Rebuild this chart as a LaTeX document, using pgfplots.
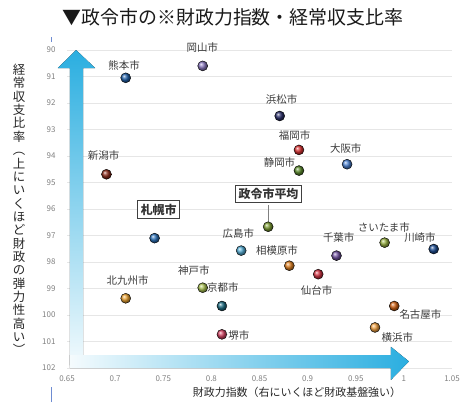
\documentclass[border=0pt]{standalone}
\usepackage{fontspec}
\setmainfont{Noto Sans CJK JP}
\usepackage{pgfplots}
\pgfplotsset{compat=1.18}
\definecolor{gridc}{HTML}{E6E6E6}
\definecolor{tickc}{HTML}{808080}
\definecolor{labc}{HTML}{3A3A3A}
\definecolor{arrowc}{HTML}{2AAEE0}
\definecolor{cKumamoto}{HTML}{1F5FA8}
\definecolor{cOkayama}{HTML}{8A78C0}
\definecolor{cNiigata}{HTML}{8B2A1A}
\definecolor{cHamamatsu}{HTML}{2B2F6B}
\definecolor{cFukuoka}{HTML}{D83030}
\definecolor{cOsaka}{HTML}{4A80D0}
\definecolor{cShizuoka}{HTML}{5A8A2A}
\definecolor{cAvg}{HTML}{7A9A30}
\definecolor{cSapporo}{HTML}{2A70B8}
\definecolor{cHiroshima}{HTML}{50A8D0}
\definecolor{cSagamihara}{HTML}{E08020}
\definecolor{cChiba}{HTML}{7050A0}
\definecolor{cSaitama}{HTML}{98B040}
\definecolor{cKawasaki}{HTML}{1A4A90}
\definecolor{cSendai}{HTML}{D03040}
\definecolor{cKitakyushu}{HTML}{E8A030}
\definecolor{cKobe}{HTML}{A8C050}
\definecolor{cKyoto}{HTML}{1A6A80}
\definecolor{cSakai}{HTML}{D04060}
\definecolor{cNagoya}{HTML}{D06010}
\definecolor{cYokohama}{HTML}{F0A040}
\begin{document}
\begin{tikzpicture}
\useasboundingbox (-67bp,-42bp) rectangle (394bp,368bp);
\begin{axis}[
  at={(0,0)}, anchor=south west,
  scale only axis, width=385bp, height=318bp,
  xmin=0.65, xmax=1.05, ymin=90, ymax=102, y dir=reverse,
  xtick={0.65,0.7,0.75,0.8,0.85,0.9,0.95,1,1.05},
  xticklabels={0.65,0.7,0.75,0.8,0.85,0.9,0.95,1,1.05},
  ytick={90,91,92,93,94,95,96,97,98,99,100,101,102},
  ymajorgrids, grid style={gridc, line width=0.7bp},
  axis line style={draw=none}, major tick length=0pt,
  /pgf/number format/assume math mode=true,
  tick label style={font=\fontsize{8}{9}\selectfont, text=tickc},
  yticklabel style={xshift=-8bp},
  xticklabel style={yshift=-4bp},
  clip=false,
  every node near coord/.style={font=\fontsize{10.5}{12}\selectfont, text=labc},
]
% arrows
\fill[top color=arrowc, bottom color=arrowc!6]
  (axis cs:0.6531,101.9) -- (axis cs:0.6531,90.68) -- (axis cs:0.6406,90.68) --
  (axis cs:0.6594,90.0) -- (axis cs:0.6792,90.68) -- (axis cs:0.6667,90.68) --
  (axis cs:0.6667,101.9) -- cycle;
\fill[left color=arrowc!5, right color=arrowc]
  (axis cs:0.6531,101.51) -- (axis cs:0.9865,101.51) -- (axis cs:0.9865,101.2) --
  (axis cs:1.0052,101.75) -- (axis cs:0.9865,102.45) -- (axis cs:0.9865,102.0) --
  (axis cs:0.6531,102.0) -- cycle;
% connector for average
\draw[gray, line width=0.8bp] (axis cs:0.8594,95.85) -- (axis cs:0.8594,96.6);
% points
\addplot[only marks, mark=ball, mark size=5bp, ball color=cKumamoto] coordinates {(0.711,91.05)};
\addplot[only marks, mark=ball, mark size=5bp, ball color=cOkayama] coordinates {(0.791,90.6)};
\addplot[only marks, mark=ball, mark size=5bp, ball color=cNiigata] coordinates {(0.691,94.69)};
\addplot[only marks, mark=ball, mark size=5bp, ball color=cHamamatsu] coordinates {(0.871,92.49)};
\addplot[only marks, mark=ball, mark size=5bp, ball color=cFukuoka] coordinates {(0.891,93.77)};
\addplot[only marks, mark=ball, mark size=5bp, ball color=cOsaka] coordinates {(0.941,94.31)};
\addplot[only marks, mark=ball, mark size=5bp, ball color=cShizuoka] coordinates {(0.891,94.55)};
\addplot[only marks, mark=ball, mark size=5bp, ball color=cAvg] coordinates {(0.859,96.67)};
\addplot[only marks, mark=ball, mark size=5bp, ball color=cSapporo] coordinates {(0.741,97.1)};
\addplot[only marks, mark=ball, mark size=5bp, ball color=cHiroshima] coordinates {(0.831,97.57)};
\addplot[only marks, mark=ball, mark size=5bp, ball color=cSagamihara] coordinates {(0.881,98.14)};
\addplot[only marks, mark=ball, mark size=5bp, ball color=cChiba] coordinates {(0.930,97.76)};
\addplot[only marks, mark=ball, mark size=5bp, ball color=cSaitama] coordinates {(0.980,97.27)};
\addplot[only marks, mark=ball, mark size=5bp, ball color=cKawasaki] coordinates {(1.031,97.51)};
\addplot[only marks, mark=ball, mark size=5bp, ball color=cSendai] coordinates {(0.911,98.46)};
\addplot[only marks, mark=ball, mark size=5bp, ball color=cKitakyushu] coordinates {(0.711,99.37)};
\addplot[only marks, mark=ball, mark size=5bp, ball color=cKobe] coordinates {(0.791,98.97)};
\addplot[only marks, mark=ball, mark size=5bp, ball color=cKyoto] coordinates {(0.811,99.66)};
\addplot[only marks, mark=ball, mark size=5bp, ball color=cSakai] coordinates {(0.811,100.73)};
\addplot[only marks, mark=ball, mark size=5bp, ball color=cNagoya] coordinates {(0.990,99.66)};
\addplot[only marks, mark=ball, mark size=5bp, ball color=cYokohama] coordinates {(0.970,100.47)};
% labels
\begin{scope}[every node/.style={font=\fontsize{10.5}{12}\selectfont, text=labc, inner sep=0pt}]
\node at (axis cs:0.7094,90.57) {熊本市};
\node at (axis cs:0.7906,89.92) {岡山市};
\node at (axis cs:0.688,94.0) {新潟市};
\node at (axis cs:0.8729,91.85) {浜松市};
\node at (axis cs:0.8865,93.21) {福岡市};
\node at (axis cs:0.9396,93.72) {大阪市};
\node at (axis cs:0.8708,94.23) {静岡市};
\node at (axis cs:0.8281,96.94) {広島市};
\node at (axis cs:0.8682,97.58) {相模原市};
\node at (axis cs:0.9323,97.09) {千葉市};
\node at (axis cs:0.9792,96.68) {さいたま市};
\node at (axis cs:1.0167,97.06) {川崎市};
\node at (axis cs:0.9094,99.06) {仙台市};
\node at (axis cs:0.713,98.68) {北九州市};
\node at (axis cs:0.7818,98.32) {神戸市};
\node at (axis cs:0.812,98.98) {京都市};
\node at (axis cs:0.8286,100.77) {堺市};
\node at (axis cs:1.0172,100.0) {名古屋市};
\node at (axis cs:0.9932,100.85) {横浜市};
\end{scope}
\node[draw=black!75, line width=0.8bp, fill=white, inner sep=3bp, font=\fontsize{12}{13}\selectfont\bfseries, text=black!80] at (axis cs:0.8594,95.43) {政令市平均};
\node[draw=black!75, line width=0.8bp, fill=white, inner sep=3bp, font=\fontsize{12}{13}\selectfont\bfseries, text=black!80] at (axis cs:0.7453,96.02) {札幌市};
\end{axis}
% title and axis titles
\node[font=\fontsize{19}{21}\selectfont, text=black!90] at (166bp,350.5bp) {▼政令市の※財政力指数・経常収支比率};
\node[font=\fontsize{11}{12}\selectfont, text=black!85] at (230bp,-24bp) {財政力指数（右にいくほど財政基盤強い）};
\node[font=\fontsize{12.5}{13.4}\selectfont, text=black!85, align=center, inner sep=0pt] at (-48bp,158.5bp)
 {経\\常\\収\\支\\比\\率\\︵\\上\\に\\い\\く\\ほ\\ど\\財\\政\\の\\弾\\力\\性\\高\\い\\︶};
% small marks at the left edge
\draw[color={rgb,255:red,110;green,140;blue,210}, line width=0.8bp] (-16bp,326bp) -- (-16bp,331bp);
\draw[color={rgb,255:red,110;green,140;blue,210}, line width=0.8bp] (-15.5bp,-34bp) -- (-15.5bp,-19bp);
\end{tikzpicture}
\end{document}
